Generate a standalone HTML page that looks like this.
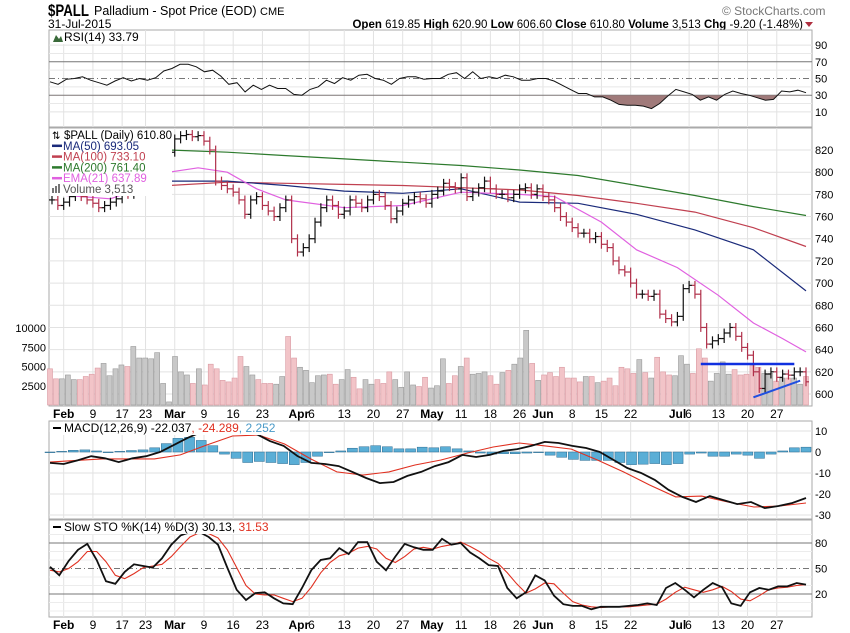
<!DOCTYPE html>
<html><head><meta charset="utf-8">
<style>
body{margin:0;background:#fff;}
svg{display:block;font-family:"Liberation Sans",Arial,sans-serif;}
</style></head>
<body>
<svg id="chart" width="850" height="633" viewBox="0 0 850 633" xmlns="http://www.w3.org/2000/svg">
<g id="header">
<text x="48" y="16" font-size="17" font-weight="bold" textLength="41" lengthAdjust="spacingAndGlyphs">$PALL</text>
<text x="94" y="15" font-size="12.5">Palladium - Spot Price (EOD) <tspan font-size="11">CME</tspan></text>
<text x="48" y="28" font-size="12">31-Jul-2015</text>
<text x="722" y="15" font-size="12" fill="#777">© StockCharts.com</text>
<text x="803" y="28" font-size="11.5" text-anchor="end"><tspan font-weight="bold">Open</tspan> 619.85 <tspan font-weight="bold">High</tspan> 620.90 <tspan font-weight="bold">Low</tspan> 606.60 <tspan font-weight="bold">Close</tspan> 610.80 <tspan font-weight="bold">Volume</tspan> 3,513 <tspan font-weight="bold">Chg</tspan> -9.20 (-1.48%)</text>
<path d="M805 22 L813 22 L809 27 Z" fill="#b03040"/>
</g>
<g id="layer"></g>
</svg>
<script>
// ---- data ----
const closes=[775,770,773,778,782,778,775,772,768,770,773,776,782,780,784,786,795,805,812,815,818,830,833,834,832,833,828,820,792,788,785,782,775,762,775,778,770,765,760,768,775,740,728,732,740,755,768,775,770,762,765,775,772,768,775,780,778,770,758,765,772,775,778,776,772,780,783,790,787,785,795,778,782,786,792,785,780,780,777,780,785,786,780,785,778,775,768,760,755,750,745,745,740,742,735,732,720,712,710,700,690,690,688,690,672,668,665,670,695,698,690,660,645,648,650,655,660,652,642,635,620,605,618,620,615,618,617,620,620,611];
const volumes=[4700,3400,3400,3900,3300,3300,3700,4000,4800,5400,3800,4700,5200,5000,7600,6100,6100,6000,6800,2800,400,6300,4300,3900,2800,4700,2600,5300,4700,3200,3000,3500,6300,5000,3900,3300,2800,2800,2700,3700,8900,6100,4900,4500,2900,3800,3900,4000,2700,3300,4600,3600,2100,3300,2700,3300,2800,4300,3300,2300,4300,2600,2400,3600,2200,2500,6000,2800,3800,5000,6100,4000,4100,4300,3800,2700,4200,4500,5300,6100,9700,5400,3200,3900,4200,3700,4900,3500,3500,3000,3700,3700,2900,3100,3500,2500,4900,4700,4100,5900,4200,3500,6200,4300,3900,3800,6400,5300,4100,7300,6100,3100,4100,5600,4000,4600,3900,4000,5100,4900,4100,4100,3100,3500,3500,3500,2700,3700];
const ma200Idx=[0,10,20,30,40,50,60,70,80,90,100,110,120,129];
const ma200=[821,821,820,818,815,812,809,806,802,797,788,779,769,761];
const ma100Idx=[0,10,20,30,40,50,60,70,80,90,100,110,120,129];
const ma100=[780,783,788,791,790,789,788,786,784,779,772,764,750,733];
const ma50Idx=[0,10,20,30,40,50,60,70,80,90,100,110,120,129];
const ma50=[790,791,792,792,788,783,781,785,773,772,762,748,730,693];
const emaIdx=[0,10,15,20,25,30,35,40,50,60,70,80,86,94,100,107,114,120,125,129];
const ema21=[780,776,785,800,804,800,785,775,768,770,782,780,778,755,730,714,689,664,650,638];
const resistLine=[627,627];
const supportLine=[597,612];
const rsi=[46,43,49,50,52,48,45,42,47,51,47,50,48,51,59,62,67,67,64,58,60,53,43,45,34,42,37,42,38,38,31,30,37,40,48,44,51,48,54,55,50,48,43,50,52,52,49,50,50,55,57,50,58,50,52,50,54,52,48,48,50,50,47,42,37,32,32,28,28,24,19,18,18,17,14,20,29,37,34,31,24,28,24,31,35,32,30,27,24,25,35,34,36,33];
const macd=[-5.2,-5.7,-4,-2,-3,-4.8,-3,-2,0,3.3,6.7,9.5,12,12,10,8.6,5.2,2.9,-1.9,-5.2,-5.7,-6.7,-9.5,-12.4,-14.8,-14.3,-11.4,-9.5,-6.7,-4.8,-1.4,-2.4,-1.4,0.5,1.4,2.9,4.8,4.3,2.9,1.9,0,-3.8,-7.6,-10,-13.3,-18,-21.4,-23.8,-21,-22.9,-24.8,-23.8,-26.7,-25.7,-24.3,-21.9];
const signal=[-4.8,-4,-3.3,-3.3,-3.3,-1.4,3.3,7.6,8.1,3.8,-3.3,-9.5,-11,-9.5,-6.2,-3.8,-0.5,2.4,4.3,2.9,1.4,-3.8,-9.5,-15.7,-21.4,-21,-23.8,-26.2,-25.7,-24.3];
const hist=[-0.3,0.3,0.8,1,0.5,-0.3,0.3,0.7,1,2,4,6.5,7,5.5,3,-1,-3,-5,-4.5,-5,-5.5,-6,-5,-2,-0.3,0.5,1.8,2.5,3,2.5,1.5,1.5,2.3,2,2.5,1.5,0.5,-0.5,-1,-0.8,-0.8,-0.5,-0.3,-1.5,-2.5,-3.5,-4,-4,-4,-5,-6,-5.8,-5.5,-6,-5.5,-1,-0.5,-2,-2,-1,-1.5,-3,-1,0.5,2,2.3];
const stoK=[52,42,59,72,79,60,35,32,46,55,53,51,62,78,89,93,93,87,78,51,25,13,21,22,15,9,8,27,48,60,62,74,67,81,81,58,48,64,79,75,72,72,85,78,80,69,62,54,53,27,15,22,42,36,18,8,6,6,2,5,5,5,6,7,9,7,27,33,25,16,25,33,28,9,6,22,27,25,29,29,33,31];
const stoD=[48,46,50,58,70,70,58,42,38,44,51,53,55,64,76,87,92,91,86,72,51,30,20,19,19,15,11,15,28,45,57,65,68,74,76,73,62,57,64,73,75,73,76,78,81,76,70,62,56,45,32,21,26,33,32,21,11,7,5,4,5,5,5,6,7,8,14,22,28,25,22,25,29,23,14,12,18,25,27,28,30,31];
const xLabels=["Feb","9","17","23","Mar","9","16","23","Apr","6","13","20","27","May","11","18","26","Jun","8","15","22","Jul","6","13","20","27"];
const xLabelDays=[2,7,12,16,21,26,31,36,44,44,50,55,60,65,70,75,80,84,89,94,99,108.5,108.5,114,119,124];
const gridDays=[2,7,12,16,21,26,31,36,44,50,55,60,65,70,75,80,84,89,94,99,109,114,119,124];
const priceTicks=[600,620,640,660,680,700,720,740,760,780,800,820];
const volTicks=[2500,5000,7500,10000];
const rsiTicks=[10,30,50,70,90];
const macdTicks=[-30,-20,-10,0,10];
const stoTicks=[20,50,80];

// ---- scales ----
const L=49,R=812;
const X0=52,X1=806;
const xDay=i=>X0+i*(X1-X0)/(closes.length-1);
const xSpread=(i,n)=>50+i*(806-50)/(n-1);
const yP=p=>394-(p-600)*1.109;
const yV=v=>405-v*0.0077;
const yR=v=>78.5-(v-50)*0.835;
const yM=v=>452-v*2.1;
const yS=v=>594-(v-20)*0.85;
const NS="http://www.w3.org/2000/svg";
const layer=document.getElementById('layer');
function mk(tag,attrs,parent){const e=document.createElementNS(NS,tag);for(const k in attrs)e.setAttribute(k,attrs[k]);(parent||layer).appendChild(e);return e;}
function grp(name){const g=mk('g',{});


return g;}

const panels=[[30,127,'rsi-panel'],[128,406,'price-panel'],[421,519,'macd-panel'],[520,617,'sto-panel']];
panels.forEach(p=>{
 const g=grp(p[2]);
 const r=mk('rect',{x:L,y:p[0],width:R-L,height:p[1]-p[0],fill:'#fff',stroke:'#aaa','stroke-width':1},g);
 
 
 gridDays.forEach(d=>{
  const ln=mk('line',{x1:xDay(d),x2:xDay(d),y1:p[0],y2:p[1],stroke:'#e2e2e2','stroke-width':1},g);
  
  
 });
});
const gGrid=grp('horizontal-gridlines');
priceTicks.forEach(t=>mk('line',{x1:L,x2:R,y1:yP(t),y2:yP(t),stroke:'#e2e2e2'},gGrid));
[20,40,60,80].forEach(t=>mk('line',{x1:L,x2:R,y1:yR(t),y2:yR(t),stroke:'#e8e8e8'},gGrid));
[10,90].forEach(t=>mk('line',{x1:L,x2:R,y1:yR(t),y2:yR(t),stroke:'#e2e2e2'},gGrid));
macdTicks.forEach(t=>mk('line',{x1:L,x2:R,y1:yM(t),y2:yM(t),stroke:'#e2e2e2'},gGrid));
[0,10,30,40,60,70,90].forEach(t=>mk('line',{x1:L,x2:R,y1:yS(t),y2:yS(t),stroke:'#ececec'},gGrid));
[[yR(70),''],[yR(30),''],[yR(50),'6,3,1,3'],[yS(80),''],[yS(20),''],[yS(50),'6,3,1,3']].forEach(a=>{
 const ln=mk('line',{x1:L,x2:R,y1:a[0],y2:a[0],stroke:'#777','stroke-width':1,'stroke-dasharray':a[1]});
 
 
});

const gAx=grp('y-axis-labels');
priceTicks.forEach(t=>{const e=mk('text',{x:815,y:yP(t)+4,'font-size':11},gAx);e.textContent=t;});
rsiTicks.forEach(t=>{const e=mk('text',{x:815,y:yR(t)+4,'font-size':11},gAx);e.textContent=t;});
macdTicks.forEach(t=>{const e=mk('text',{x:815,y:yM(t)+4,'font-size':11},gAx);e.textContent=t;});
stoTicks.forEach(t=>{const e=mk('text',{x:815,y:yS(t)+4,'font-size':11},gAx);e.textContent=t;});
volTicks.forEach(t=>{const e=mk('text',{x:46,y:yV(t)+4,'font-size':11,'text-anchor':'end'},gAx);e.textContent=t;});
[414,625].forEach((yy,k)=>{
 const g=grp(k?'x-axis-labels-bottom':'x-axis-labels-middle');
 xLabels.forEach((s,i)=>{
  const bold=isNaN(+s);
  const pre=(s==='Apr'||s==='Jul');
  const after=i>0&&(xLabels[i-1]==='Apr'||xLabels[i-1]==='Jul');
  const e=mk('text',{x:xDay(xLabelDays[i])+(after?-1:0),y:yy+4,'font-size':12,'text-anchor':pre?'end':(after?'start':'middle'),'font-weight':bold?'bold':'normal'},g);
  e.textContent=s;
  
  
 });
});

const gVol=grp('volume-bars');
volumes.forEach((v,i)=>{
 const x=xSpread(i,volumes.length);
 const ci=Math.min(closes.length-1,Math.round(i*(closes.length-1)/(volumes.length-1)));
 const up=ci>0&&closes[ci]>=closes[ci-1];
 const r=mk('rect',{x:x-2.5,y:yV(v),width:5,height:405-yV(v),fill:up?'#c8c8c8':'#f2c4c8',stroke:up?'#999':'#d99aa2','stroke-width':0.6},gVol);
 
 
});

function polyFrom(idx,vals,color,name,w){
 const pts=idx.map((d,k)=>xDay(d).toFixed(1)+','+yP(vals[k]).toFixed(1)).join(' ');
 const e=mk('polyline',{points:pts,fill:'none',stroke:color,'stroke-width':w||1.2});
 
 
}
polyFrom(ma200Idx,ma200,'#2d7a2d','ma200-line');
polyFrom(ma100Idx,ma100,'#c04050','ma100-line');
polyFrom(ma50Idx,ma50,'#1a2a7a','ma50-line');
polyFrom(emaIdx,ema21,'#e060e0','ema21-line');

const gBars=grp('price-bars');
closes.forEach((c,i)=>{
 const o=i?closes[i-1]:c;
 const up=c>=o;
 const hi=Math.max(o,c)+4, lo=Math.min(o,c)-4;
 const x=xDay(i), col=up?'#111':'#b0304a';
 const g=mk('g',{stroke:col,'stroke-width':1.2},gBars);
 
 
 mk('line',{x1:x,x2:x,y1:yP(hi),y2:yP(lo)},g);
 mk('line',{x1:x-3,x2:x,y1:yP(o),y2:yP(o)},g);
 mk('line',{x1:x,x2:x+3,y1:yP(c),y2:yP(c)},g);
});
const t1=mk('line',{x1:xDay(111),x2:xDay(127),y1:yP(resistLine[0]),y2:yP(resistLine[1]),stroke:'#1030e0','stroke-width':2.5});


const t2=mk('line',{x1:xDay(120),x2:xDay(128),y1:yP(supportLine[0]),y2:yP(supportLine[1]),stroke:'#2050e0','stroke-width':2});



const gLeg=grp('price-legend');
mk('rect',{x:L+1,y:129,width:122,height:67,fill:'#fff'},gLeg);
const legItems=[['$PALL (Daily) 610.80','#000',null],['MA(50) 693.05','#1a2a7a','#1a2a7a'],['MA(100) 733.10','#c04050','#c04050'],['MA(200) 761.40','#2d7a2d','#2d7a2d'],['EMA(21) 637.89','#e060e0','#e060e0'],['Volume 3,513','#555',null]];
legItems.forEach((it,k)=>{
 const y=139+k*10.8;
 if(it[2])mk('line',{x1:52,x2:62,y1:y-4,y2:y-4,stroke:it[2],'stroke-width':2.5},gLeg);
 const e=mk('text',{x:k===0?64:63,y:y,'font-size':11.5,fill:it[1]},gLeg);
 e.textContent=it[0];
 
 
});
mk('text',{x:52,y:139,'font-size':10},gLeg).textContent='⇅';
[0,1,2].forEach(k=>mk('rect',{x:52+k*3,y:188-k*2,width:2,height:5+k*2,fill:'#777'},gLeg));

const gR=grp('rsi-series');
const rPts=rsi.map((v,i)=>[xSpread(i,rsi.length),yR(v)]);
const clip=mk('clipPath',{id:'below30'});
mk('rect',{x:L,y:yR(30),width:R-L,height:127-yR(30)},clip);
const area='M'+rPts[0][0]+','+yR(30)+' '+rPts.map(p=>'L'+p[0].toFixed(1)+','+p[1].toFixed(1)).join(' ')+' L'+rPts[rPts.length-1][0]+','+yR(30)+'Z';
const ar=mk('path',{d:area,fill:'#a07a7a','clip-path':'url(#below30)'},gR);


const rl=mk('polyline',{points:rPts.map(p=>p[0].toFixed(1)+','+p[1].toFixed(1)).join(' '),fill:'none',stroke:'#111','stroke-width':1},gR);


mk('rect',{x:L+1,y:31,width:80,height:13,fill:'#fff'},gR);
mk('path',{d:'M53 42 L56 35 L59 39 L61 36 L63 42 Z',fill:'#3a6a3a'},gR);
const rt=mk('text',{x:64,y:41,'font-size':12},gR);rt.textContent='RSI(14) 33.79';



const gM=grp('macd-series');
hist.forEach((v,i)=>{
 const x=xSpread(i,hist.length);
 const r=mk('rect',{x:x-5,y:Math.min(yM(0),yM(v)),width:10,height:Math.abs(yM(v)-yM(0)),fill:'#5aaed6',stroke:'#2a6a90','stroke-width':0.5},gM);
 
 
});
const sl=mk('polyline',{points:signal.map((v,i)=>xSpread(i,signal.length).toFixed(1)+','+yM(v).toFixed(1)).join(' '),fill:'none',stroke:'#e03020','stroke-width':1.1},gM);


const ml=mk('polyline',{points:macd.map((v,i)=>xSpread(i,macd.length).toFixed(1)+','+yM(v).toFixed(1)).join(' '),fill:'none',stroke:'#111','stroke-width':1.8},gM);


mk('rect',{x:L+1,y:422,width:240,height:13,fill:'#fff'},gM);
mk('line',{x1:53,x2:61,y1:428,y2:428,stroke:'#000','stroke-width':2},gM);
const mt=mk('text',{x:64,y:432,'font-size':12},gM);
mt.innerHTML='MACD(12,26,9) -22.037<tspan fill="#e03020">, -24.289</tspan><tspan fill="#4a9ac8">, 2.252</tspan>';



const gS=grp('stochastic-series');
const dl=mk('polyline',{points:stoD.map((v,i)=>xSpread(i,stoD.length).toFixed(1)+','+yS(v).toFixed(1)).join(' '),fill:'none',stroke:'#e03020','stroke-width':1.1},gS);


const kl=mk('polyline',{points:stoK.map((v,i)=>xSpread(i,stoK.length).toFixed(1)+','+yS(v).toFixed(1)).join(' '),fill:'none',stroke:'#111','stroke-width':1.8},gS);


mk('rect',{x:L+1,y:521,width:230,height:13,fill:'#fff'},gS);
mk('line',{x1:53,x2:61,y1:527,y2:527,stroke:'#000','stroke-width':2},gS);
const st=mk('text',{x:64,y:531,'font-size':12},gS);
st.innerHTML='Slow STO %K(14) %D(3) 30.13, <tspan fill="#e03020">31.53</tspan>';


</script>
</body></html>
